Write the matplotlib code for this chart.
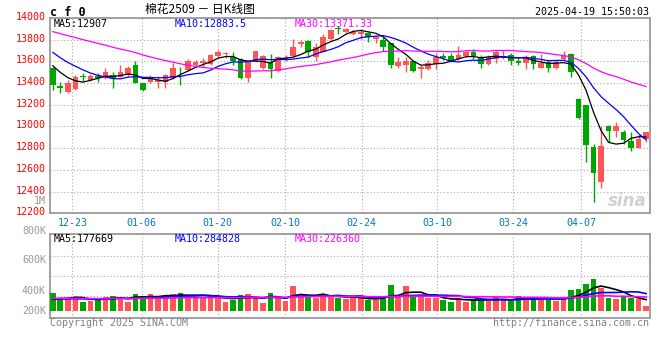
import numpy as np
import pandas as pd
import matplotlib
matplotlib.use("Agg")
import matplotlib.pyplot as plt
from matplotlib.transforms import ScaledTranslation

W, H = 660, 360
MONO = "DejaVu Sans Mono"
RED = "#ff5555"
GREEN = "#00a600"
GRID = "#aaaaaa"

# 图左边以外的 29 根收盘价/成交量，只用来把均线接上
prev_close = [13920, 13950, 13990, 14010, 13980, 13960, 14000, 14030, 13990, 13970,
              13950, 13980, 14000, 13960, 13940, 13970, 13990, 13960, 13930, 13920,
              13850, 13830, 13800, 13790, 13760, 13660, 13640, 13600, 13520]
prev_volume = [210000, 195000, 230000, 205000, 188000, 215000, 240000, 198000, 185000, 220000,
               205000, 190000, 212000, 230000, 199000, 185000, 208000, 222000, 196000, 205000,
               200000, 215000, 190000, 185000, 210000, 160000, 175000, 150000, 170000]

opens = [13541, 13372, 13314, 13345, 13460, 13428, 13470, 13443, 13474, 13458,
         13474, 13566, 13397, 13412, 13412, 13412, 13449, 13523, 13520, 13566,
         13582, 13572, 13652, 13665, 13643, 13622, 13443, 13597, 13535, 13597,
         13511, 13612, 13652, 13757, 13788, 13643, 13689, 13806, 13900, 13868,
         13849, 13849, 13858, 13806, 13797, 13766, 13560, 13566, 13603, 13526,
         13529, 13572, 13652, 13652, 13622, 13652, 13689, 13643, 13572, 13618,
         13628, 13658, 13603, 13582, 13649, 13541, 13597, 13541, 13618, 13665,
         13252, 13197, 12812, 12489, 13003, 12960, 12951, 12865, 12803, 12883]
highs = [13550, 13412, 13428, 13474, 13489, 13480, 13489, 13535, 13505, 13566,
         13560, 13603, 13400, 13474, 13465, 13480, 13588, 13551, 13622, 13612,
         13634, 13665, 13705, 13689, 13689, 13630, 13603, 13700, 13660, 13665,
         13650, 13658, 13806, 13797, 13795, 13766, 13849, 13895, 13929, 13905,
         13889, 13898, 13874, 13837, 13828, 13770, 13643, 13643, 13610, 13566,
         13612, 13674, 13674, 13674, 13745, 13705, 13714, 13658, 13658, 13705,
         13705, 13674, 13643, 13658, 13658, 13665, 13612, 13612, 13695, 13680,
         13265, 13197, 12843, 13003, 13012, 13043, 12966, 12951, 12935, 12951]
lows = [13335, 13311, 13305, 13340, 13422, 13420, 13412, 13440, 13357, 13452,
        13470, 13397, 13330, 13405, 13357, 13357, 13440, 13382, 13515, 13560,
        13551, 13566, 13645, 13628, 13566, 13440, 13412, 13590, 13530, 13449,
        13505, 13605, 13645, 13735, 13643, 13603, 13685, 13800, 13849, 13860,
        13845, 13806, 13782, 13766, 13695, 13541, 13535, 13498, 13505, 13449,
        13525, 13526, 13612, 13597, 13615, 13643, 13622, 13535, 13566, 13582,
        13620, 13566, 13566, 13526, 13526, 13535, 13505, 13529, 13612, 13458,
        13068, 12674, 12305, 12434, 12858, 12905, 12843, 12772, 12800, 12858]
closes = [13382, 13351, 13397, 13458, 13456, 13465, 13443, 13498, 13443, 13498,
          13535, 13403, 13335, 13443, 13428, 13474, 13535, 13517, 13603, 13597,
          13603, 13658, 13689, 13674, 13603, 13449, 13597, 13695, 13652, 13529,
          13643, 13634, 13735, 13775, 13683, 13735, 13828, 13889, 13896, 13898,
          13874, 13868, 13828, 13828, 13735, 13566, 13597, 13603, 13511, 13551,
          13582, 13643, 13628, 13603, 13658, 13683, 13652, 13572, 13643, 13690,
          13652, 13603, 13582, 13634, 13572, 13582, 13535, 13597, 13658, 13505,
          13080, 12834, 12575, 12818, 12960, 13003, 12874, 12803, 12889, 12945]
volumes = [293000, 203000, 203000, 229000, 149000, 165000, 176000, 229000, 245000, 213000,
           149000, 277000, 240000, 277000, 203000, 229000, 277000, 293000, 261000, 203000,
           229000, 240000, 203000, 149000, 176000, 261000, 277000, 203000, 133000, 293000,
           229000, 165000, 405000, 229000, 240000, 213000, 261000, 261000, 203000, 187000,
           219000, 203000, 176000, 203000, 229000, 416000, 219000, 400000, 240000, 229000,
           203000, 213000, 176000, 149000, 213000, 149000, 187000, 176000, 165000, 219000,
           176000, 160000, 240000, 203000, 213000, 187000, 176000, 165000, 219000, 336000,
           352000, 432000, 512000, 363000, 213000, 192000, 240000, 213000, 187000, 80000]

date_labels = ["12-23", "01-06", "01-20", "02-10", "02-24", "03-10", "03-24", "04-07"]
date_tick_x = [2.6, 11.84, 21.96, 30.96, 41.13, 51.2, 61.3, 70.33]
price_ticks = list(range(12200, 14001, 200))


def fig_xy(x, y):
    return x / W, 1 - y / H


def main():
    o = np.array(opens)
    c = np.array(closes)
    hi = np.array(highs)
    lo = np.array(lows)
    v = np.array(volumes)
    n = len(c)
    x = np.arange(n)
    up = c >= o
    col = np.where(up, RED, GREEN)

    cs = pd.Series(prev_close + closes)
    vs = pd.Series(prev_volume + volumes)
    ma = {k: cs.rolling(k).mean().values[-n:] for k in (5, 10, 30)}
    vma = {k: vs.rolling(k).mean().values[-n:] for k in (5, 10, 30)}

    fig = plt.figure(figsize=(W / 100, H / 100), dpi=100)
    fig.patch.set_facecolor("white")

    ax = fig.add_axes([50.5 / W, 1 - 213.3 / H, 599 / W, 195.3 / H])
    axv = fig.add_axes([50.5 / W, 1 - 318.3 / H, 599 / W, 84 / H])
    xlim = (-0.31, 79.45)

    # -------------------------
    # K线
    # -------------------------
    ax.vlines(x, lo, hi, colors=col, linewidth=1, zorder=2)
    body = np.maximum(np.abs(c - o), 8)
    ax.bar(x, body, bottom=np.minimum(o, c), width=0.76, color=col, linewidth=0, zorder=3)
    ax.plot(x, ma[5], color="black", lw=0.9, zorder=4)
    ax.plot(x, ma[10], color="#0000ff", lw=0.9, zorder=4)
    ax.plot(x, ma[30], color="#ff00ff", lw=0.9, zorder=4)

    ax.set_xlim(*xlim)
    ax.set_ylim(12200, 14000)
    ax.set_yticks(price_ticks)
    ax.set_yticklabels([str(t) for t in price_ticks], fontfamily=MONO, fontsize=7.2, color="red")
    ax.set_xticks(date_tick_x)
    ax.set_xticklabels(date_labels, fontfamily=MONO, fontsize=7.2, color="#0a74c4")
    ax.tick_params(length=0, pad=3.2)
    for lab in ax.get_yticklabels():
        lab.set_transform(lab.get_transform() + ScaledTranslation(0, 2 / 100, fig.dpi_scale_trans))
    ax.grid(True, color=GRID, linestyle=(0, (1, 2)), linewidth=0.8)
    ax.set_axisbelow(True)

    # -------------------------
    # 成交量
    # -------------------------
    axv.bar(x, v, width=0.76, color=col, linewidth=0, zorder=3)
    axv.plot(x, vma[5], color="black", lw=1.2, zorder=4)
    axv.plot(x, vma[10], color="#0000ff", lw=1.2, zorder=4)
    axv.plot(x, vma[30], color="#ff00ff", lw=1.2, zorder=4)
    axv.set_xlim(*xlim)
    axv.set_ylim(-116800, 1227200)
    axv.set_xticks(date_tick_x)
    axv.set_xticklabels([])
    axv.set_yticks([245000, 565000, 885000])
    axv.set_yticklabels([])
    axv.tick_params(length=0)
    axv.grid(True, color=GRID, linestyle=(0, (1, 2)), linewidth=0.8)
    axv.set_axisbelow(True)

    for a in (ax, axv):
        for s in a.spines.values():
            s.set_color("#9a9a9a")
            s.set_linewidth(1.3)

    # -------------------------
    # 文字
    # -------------------------
    t = dict(fontfamily=MONO, fontsize=7.2, va="center")
    fig.text(*fig_xy(50, 12), "c f 0", fontfamily=MONO, fontsize=8.5, fontweight="bold", va="center")
    fig.text(*fig_xy(200, 10), "棉花2509 － 日K线图", family=["Noto Sans CJK SC", "DejaVu Sans"],
             fontsize=8.5, ha="center", va="center")
    fig.text(*fig_xy(649.3, 11.7), "2025-04-19 15:50:03", ha="right", **t)

    fig.text(*fig_xy(54, 24), "MA5:12907", color="black", **t)
    fig.text(*fig_xy(175, 24), "MA10:12883.5", color="#0000ff", **t)
    fig.text(*fig_xy(295, 24), "MA30:13371.33", color="#ff00ff", **t)

    fig.text(*fig_xy(54, 238.7), "MA5:177669", color="black", **t)
    fig.text(*fig_xy(175, 238.7), "MA10:284828", color="#0000ff", **t)
    fig.text(*fig_xy(295, 238.7), "MA30:226360", color="#ff00ff", **t)

    fig.text(*fig_xy(46, 200.7), "1M", color="#999999", ha="right", **t)
    for lab, yy in (("800K", 231), ("600K", 260), ("400K", 290.7), ("200K", 311)):
        fig.text(*fig_xy(46, yy), lab, color="#999999", ha="right", **t)

    fig.text(*fig_xy(50, 323.5), "Copyright 2025 SINA.COM", color="#808080", **t)
    fig.text(*fig_xy(649.3, 323.5), "http://finance.sina.com.cn", color="#808080", ha="right", **t)

    fig.text(*fig_xy(647, 201), "sina", color="#d0d0d0", fontsize=12, fontweight="bold",
             style="italic", ha="right", va="center")

    fig.savefig("out.png", dpi=100)
    plt.close(fig)


if __name__ == "__main__":
    main()
